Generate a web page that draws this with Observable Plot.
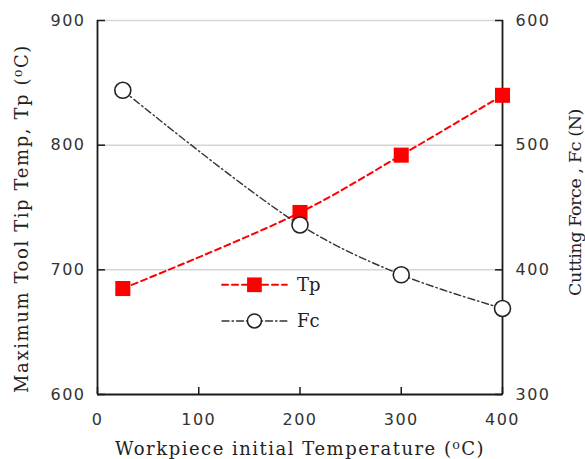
<!DOCTYPE html>
<html>
<head>
<meta charset="utf-8">
<script src="https://cdn.jsdelivr.net/npm/d3@7"></script>
<script src="https://cdn.jsdelivr.net/npm/@observablehq/plot@0.6"></script>
<style>
  html, body { margin: 0; padding: 0; background: #fff; }
  #chart { width: 585px; height: 459px; }
</style>
</head>
<body>
<div id="chart"></div>
<script>
// ---- data ----
const temps = [25, 200, 300, 400];           // workpiece initial temperature (°C)
const tp = [685, 746, 792, 840];             // max tool tip temperature (°C)
const fc = [544, 436, 396, 369];             // cutting force (N)
const xTicks = [0, 100, 200, 300, 400];
const leftTicks = [600, 700, 800, 900];
const rightTicks = [300, 400, 500, 600];
const seriesNames = ["Tp", "Fc"];
const xTitle = "Workpiece initial Temperature (\u2070C)";
const yTitle = "Maximum Tool Tip Temp, Tp (\u2070C)";
const y2Title = "Cutting Force , Fc (N)";

const offset = 300; // right axis (Fc) mapped onto left axis (Tp) domain
const rowsTp = temps.map((t, i) => ({t, v: tp[i]}));
const rowsFc = temps.map((t, i) => ({t, v: fc[i] + offset}));

// legend placement (data units)
const legY = {Tp: 688, Fc: 659};
const legend = seriesNames.map(n => ({name: n, y: legY[n]}));
const legLine = legend.flatMap(d => [{name: d.name, x: 123, y: d.y}, {name: d.name, x: 187, y: d.y}]);

const serif = "'DejaVu Serif', serif";
const sans = "'DejaVu Sans', sans-serif";
const tickStyle = {fontSize: 16, fill: "#333", stroke: "#1a1a1a", strokeWidth: 1.5, label: null};

const chart = Plot.plot({
  width: 585,
  height: 459,
  marginLeft: 97,
  marginRight: 83,
  marginTop: 20,
  marginBottom: 65,
  x: {domain: [0, 400]},
  y: {domain: [600, 900]},
  style: {background: "#fff", fontFamily: sans},
  marks: [
    Plot.gridY([700, 800, 900], {stroke: "#d6d6d6", strokeOpacity: 1, strokeWidth: 1.5}),
    Plot.ruleX([0, 400], {stroke: "#1a1a1a", strokeWidth: 1.8}),
    Plot.ruleY([600], {stroke: "#1a1a1a", strokeWidth: 1.8}),
    Plot.axisX(xTicks, {anchor: "bottom", tickSize: -7, tickPadding: 26, ...tickStyle}),
    Plot.axisY(leftTicks, {anchor: "left", tickSize: -8, tickPadding: 20, ...tickStyle}),
    Plot.axisY(rightTicks.map(d => d + offset), {anchor: "right", tickSize: -8, tickPadding: 21, tickFormat: d => d - offset, ...tickStyle}),
    // axis titles
    Plot.text([xTitle], {frameAnchor: "bottom", dy: 60, textAnchor: "middle", fontSize: 18, fontFamily: serif, fill: "#222"}),
    Plot.text([yTitle], {frameAnchor: "left", dx: -75, dy: 11, textAnchor: "middle", rotate: -90, fontSize: 18, fontFamily: serif, fill: "#222"}),
    Plot.text([y2Title], {frameAnchor: "right", dx: 73, dy: -5, textAnchor: "middle", rotate: -90, fontSize: 17.5, fontFamily: serif, fill: "#222"}),
    // series
    Plot.line(rowsTp, {x: "t", y: "v", stroke: "#ff0000", strokeWidth: 2, strokeDasharray: "6,4", curve: "catmull-rom"}),
    Plot.line(rowsFc, {x: "t", y: "v", stroke: "#333", strokeWidth: 1.4, strokeDasharray: "7,3,1.5,3", curve: "catmull-rom"}),
    Plot.dot(rowsTp, {x: "t", y: "v", symbol: "square", r: 8.5, fill: "#ff0000", stroke: "none"}),
    Plot.dot(rowsFc, {x: "t", y: "v", symbol: "circle", r: 8, fill: "#fff", stroke: "#222", strokeWidth: 1.6}),
    // legend
    Plot.line(legLine.filter(d => d.name === "Tp"), {x: "x", y: "y", stroke: "#ff0000", strokeWidth: 2, strokeDasharray: "6,4"}),
    Plot.line(legLine.filter(d => d.name === "Fc"), {x: "x", y: "y", stroke: "#333", strokeWidth: 1.4, strokeDasharray: "7,3,1.5,3"}),
    Plot.dot(legend.filter(d => d.name === "Tp"), {x: 155, y: "y", symbol: "square", r: 8.3, fill: "#ff0000"}),
    Plot.dot(legend.filter(d => d.name === "Fc"), {x: 155, y: "y", symbol: "circle", r: 7, fill: "#fff", stroke: "#222", strokeWidth: 1.6}),
    Plot.text(legend, {x: 197, y: "y", text: "name", textAnchor: "start", fontSize: 18, fontFamily: serif, fill: "#222"})
  ]
});

// typographic tuning: letter spacing like the reference
const svg = d3.select(chart);
svg.selectAll("text").each(function() {
  const t = this.textContent;
  if (t === xTitle) d3.select(this).style("letter-spacing", "1.5px");
  else if (t === yTitle) d3.select(this).style("letter-spacing", "1.6px");
  else if (t === y2Title) d3.select(this).style("letter-spacing", "-0.4px");
  else if (/^\d+$/.test(t)) d3.select(this).style("letter-spacing", "1.5px");
});
document.getElementById("chart").appendChild(chart);
</script>
</body>
</html>
